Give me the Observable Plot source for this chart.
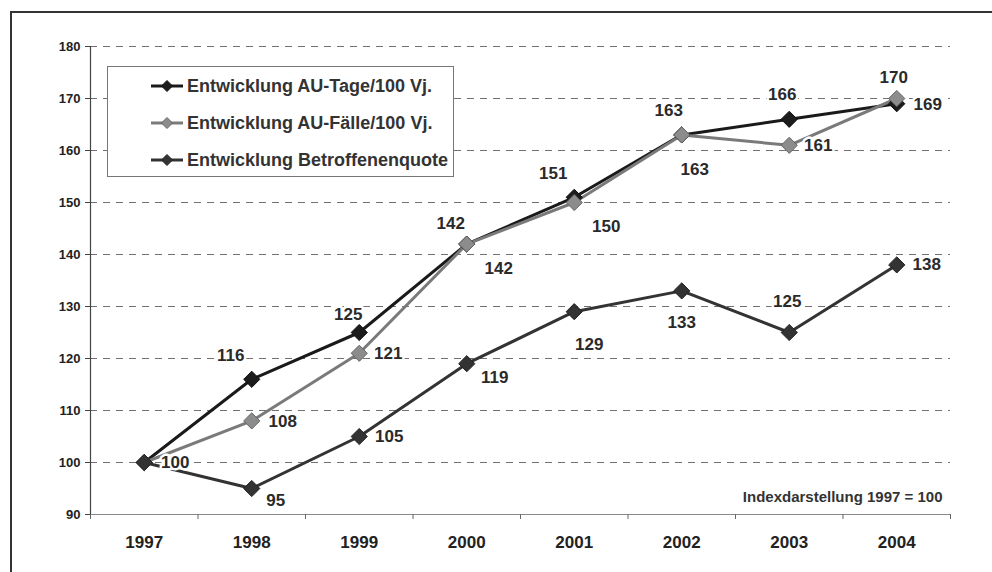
<!DOCTYPE html>
<html>
<head>
<meta charset="utf-8">
<script src="https://cdn.jsdelivr.net/npm/d3@7"></script>
<script src="https://cdn.jsdelivr.net/npm/@observablehq/plot@0.6"></script>
<style>
  body { margin: 0; background: #fff; font-family: "Liberation Sans", Arial, sans-serif; }
  #wrap { position: relative; width: 992px; height: 572px; overflow: hidden; background: #fff; }
  #frame { position: absolute; left: 10px; top: 11px; width: 1200px; height: 800px;
           border-left: 2px solid #333; border-top: 2px solid #333; }
  #chart { position: absolute; left: 0; top: 0; }
  #legend { position: absolute; left: 107px; top: 66px; width: 345px; height: 109px;
            border: 1px solid #777; background: #fff; }
  .row { position: absolute; left: 42px; height: 22px; display: flex; align-items: center; }
  .row span { font-weight: bold; font-size: 18px; color: #333; margin-left: 3px; white-space: nowrap; }
</style>
</head>
<body>
<div id="wrap">
  <div id="frame"></div>
  <div id="chart"></div>
  <div id="legend"></div>
</div>
<script>
// ---- data ----
const years = [1997, 1998, 1999, 2000, 2001, 2002, 2003, 2004];
const seriesNames = ["Entwicklung AU-Tage/100 Vj.", "Entwicklung AU-Fälle/100 Vj.", "Entwicklung Betroffenenquote"];
const auTage = [100, 116, 125, 142, 151, 163, 166, 169];
const auFaelle = [100, 108, 121, 142, 150, 163, 161, 170];
const betroffene = [100, 95, 105, 119, 129, 133, 125, 138];
const yTicks = [90, 100, 110, 120, 130, 140, 150, 160, 170, 180];
const noteText = "Indexdarstellung 1997 = 100";

// ---- styling / layout (not data) ----
const seriesStyle = [
  {line: "#1a1a1a", fill: "#1c1c1c", dotStroke: "#111"},
  {line: "#7a7a7a", fill: "#8c8c8c", dotStroke: "#666"},
  {line: "#333333", fill: "#333333", dotStroke: "#222"}
];
// label offsets [dx, dy] per series per year; null = no label
const labelOffsets = [
  [null, [-21, -24], [-11, -18], [-16, -21], [-21, -24], [-13, -24], [-7, -25], [31, 1]],
  [[31, 0], [31, 1], [29, 0], [32, 24], [32, 24], [13, 35], [29, 0], [-3, -21]],
  [null, [24, 12], [30, 0], [28, 14], [15, 33], [0, 32], [-2, -31], [30, 0]]
];

const seriesValues = [auTage, auFaelle, betroffene];
const rows = [];
seriesValues.forEach((vals, s) => {
  years.forEach((yr, i) => rows.push({series: s, year: yr, value: vals[i], idx: i}));
});

const boundaries = d3.range(years.length + 1).map(i => years[0] - 0.5 + i);

const marks = [
  Plot.gridY(yTicks.filter(v => v > yTicks[0]), {stroke: "#707070", strokeOpacity: 1, strokeDasharray: "7,6", strokeWidth: 1}),
  Plot.ruleY([yTicks[0]], {stroke: "#8a8a8a", strokeWidth: 1.2}),
  Plot.ruleX([boundaries[0]], {y1: yTicks[0], y2: yTicks[yTicks.length - 1], stroke: "#444", strokeWidth: 1.2}),
  Plot.axisY({ticks: yTicks, tickSize: 5, tickPadding: 5, fontSize: 13, fontWeight: "bold", label: null, stroke: "#444", fill: "#222"}),
  Plot.axisX({ticks: boundaries, tickSize: 5, tickFormat: () => "", label: null, stroke: "#666"}),
  Plot.axisX({ticks: years, tickSize: 0, tickPadding: 21, tickFormat: d => String(d), fontSize: 17, fontWeight: "bold", label: null, fill: "#222"}),
  Plot.text([noteText], {frameAnchor: "bottom-right", dx: -8, dy: -13, fontSize: 15, fontWeight: "bold", fill: "#333", text: d => d})
];

// lines
[0, 1, 2].forEach(s => {
  marks.push(Plot.line(rows.filter(r => r.series === s), {x: "year", y: "value", stroke: seriesStyle[s].line, strokeWidth: 3}));
});
// labels
rows.forEach(r => {
  const off = labelOffsets[r.series][r.idx];
  if (!off) return;
  marks.push(Plot.text([r], {x: "year", y: "value", text: d => String(d.value), dx: off[0], dy: off[1],
    fontSize: 17, fontWeight: "bold", fill: "#2a2a2a", stroke: "white", strokeWidth: 5, paintOrder: "stroke"}));
});
// dots
[0, 1, 2].forEach(s => {
  marks.push(Plot.dot(rows.filter(r => r.series === s), {x: "year", y: "value", symbol: "diamond2", r: 7.3,
    fill: seriesStyle[s].fill, stroke: seriesStyle[s].dotStroke, strokeWidth: 1}));
});

const chart = Plot.plot({
  width: 992, height: 572,
  marginLeft: 90, marginRight: 42, marginTop: 46, marginBottom: 58,
  style: {fontFamily: "'Liberation Sans', Arial, sans-serif", background: "transparent", color: "#222"},
  x: {type: "linear", domain: [boundaries[0], boundaries[boundaries.length - 1]]},
  y: {domain: [yTicks[0], yTicks[yTicks.length - 1]]},
  marks
});
document.getElementById("chart").appendChild(chart);

// legend
const legend = document.getElementById("legend");
const rowTops = [8, 45, 82];
seriesNames.forEach((name, s) => {
  const div = document.createElement("div");
  div.className = "row";
  div.style.top = rowTops[s] + "px";
  const st = seriesStyle[s];
  div.innerHTML = `<svg width="34" height="14"><line x1="1" y1="7" x2="33" y2="7" stroke="${st.line}" stroke-width="3"/>` +
    `<path d="M17,1.5L22.5,7L17,12.5L11.5,7Z" fill="${st.fill}" stroke="${st.dotStroke}" stroke-width="1"/></svg>` +
    `<span>${name}</span>`;
  legend.appendChild(div);
});
</script>
</body>
</html>
